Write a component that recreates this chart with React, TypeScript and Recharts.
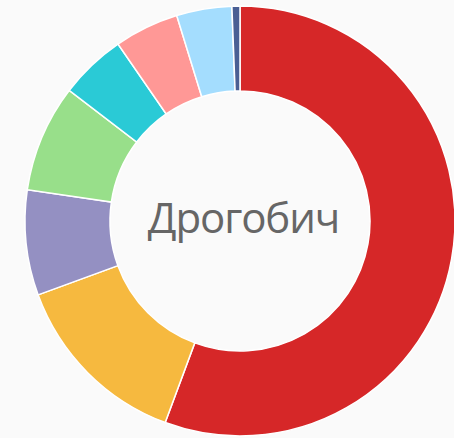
import React from "react";
import { PieChart, Pie, Cell } from "recharts";

const categories = ["A", "B", "C", "D", "E", "F", "G", "H"];
const values = [55.6, 13.75, 7.9, 8.05, 5.0, 4.85, 4.15, 0.6];
const colors = ["#D62728", "#F6B93F", "#9490C2", "#98DF8A", "#2ACAD6", "#FF9896", "#A4DDFE", "#4A5F94"];
const centerTitle = "Дрогобич";

const data = categories.map((name, i) => ({ name, value: values[i] }));

export default function App() {
  return (
    <div style={{ position: "absolute", left: 0, top: 0, width: 454, height: 438, background: "#FAFAFA", overflow: "hidden" }}>
      <PieChart width={454} height={438} margin={{ top: 0, right: 0, bottom: 0, left: 0 }}>
        <Pie
          data={data}
          dataKey="value"
          nameKey="name"
          cx={240}
          cy={221}
          innerRadius={130}
          outerRadius={215}
          startAngle={90}
          endAngle={-270}
          stroke="#FFFFFF"
          strokeWidth={1.5}
          isAnimationActive={false}
        >
          {data.map((d, i) => (
            <Cell key={d.name} fill={colors[i]} />
          ))}
        </Pie>
        <text
          x={243.5}
          y={233}
          textAnchor="middle"
          fontFamily="'Open Sans', sans-serif"
          fontSize={42}
          letterSpacing={-1.1}
          fill="#666666"
        >
          {centerTitle}
        </text>
      </PieChart>
    </div>
  );
}
